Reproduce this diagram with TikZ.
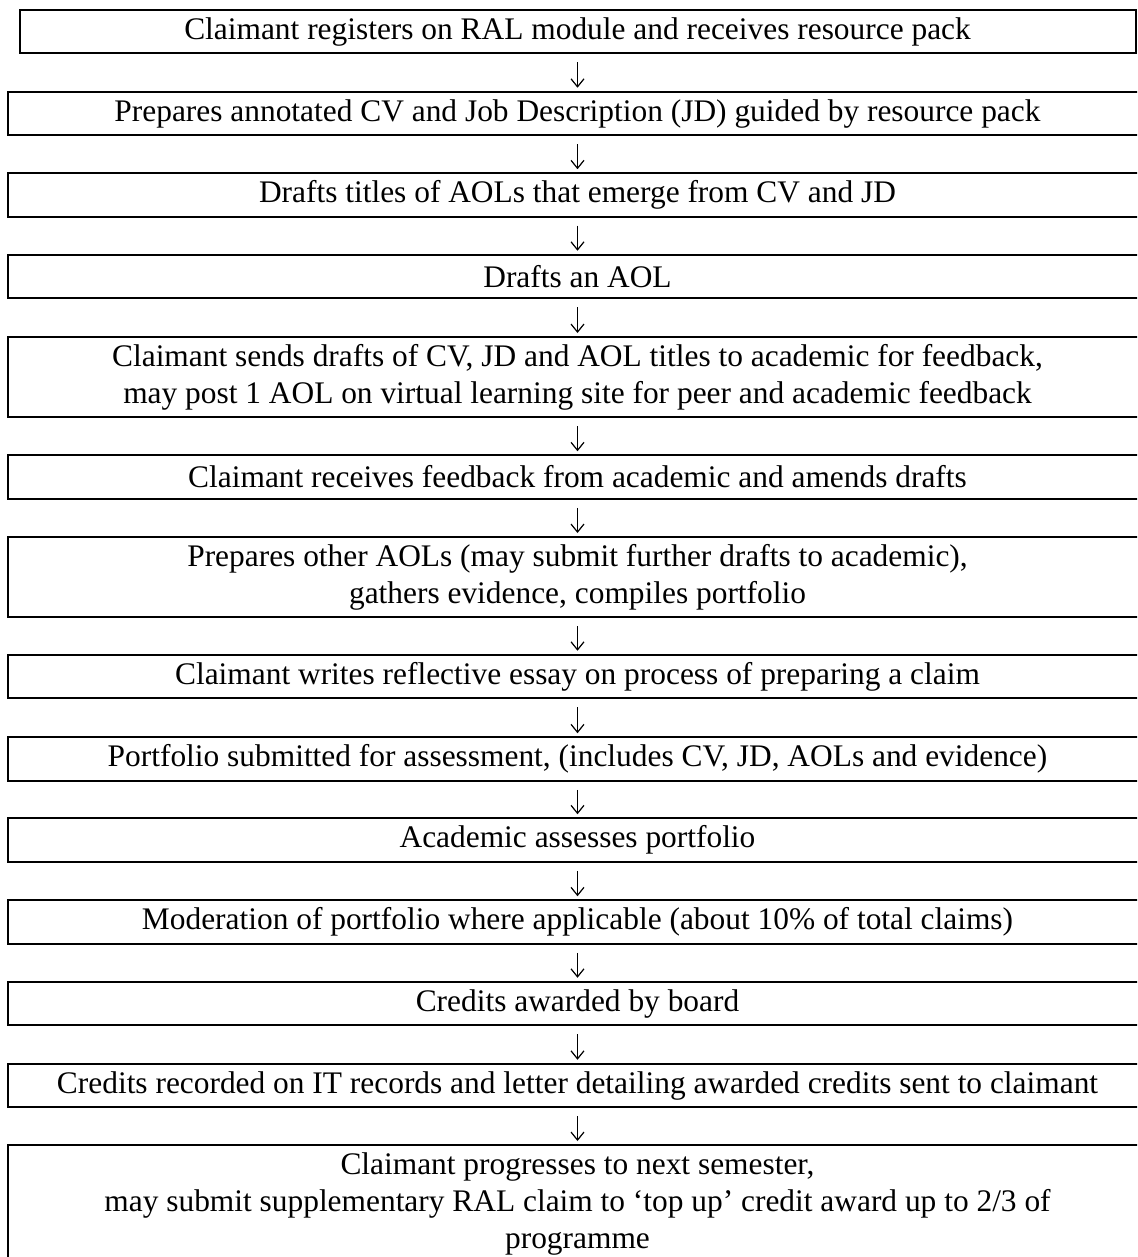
\documentclass[tikz,border=0pt]{standalone}
\usepackage{fontspec}
\setmainfont{Liberation Serif}
\usetikzlibrary{arrows.meta}
\tikzset{
  stepbox/.style={draw, line width=2pt, inner sep=0pt, align=center,
    font=\fontsize{31.4pt}{37pt}\selectfont, minimum width=1139pt, minimum height=43.5pt},
  firstbox/.style={stepbox, minimum width=1116pt},
  tallbox/.style={stepbox, minimum height=80pt},
  arr/.style={line width=1.2pt, -{Straight Barb[length=8pt,width=13pt,line width=1.2pt]},
    shorten <=8pt, shorten >=3pt}
}
\begin{document}
\begin{tikzpicture}[x=1pt,y=-1pt]
\useasboundingbox (0,0) rectangle (1137,1257);
\clip (0,0) rectangle (1137,1257);
\node[firstbox] (b1) at (577.5,31.5) {Claimant registers on RAL module and receives resource pack};
\node[stepbox] (b2) at (577.5,113.5) {Prepares annotated CV and Job Description (JD) guided by resource pack};
\node[stepbox] (b3) at (577.5,195) {Drafts titles of AOLs that emerge from CV and JD};
\node[stepbox] (b4) at (577.5,276.5) {Drafts an AOL};
\node[tallbox] (b5) at (577.5,377) {Claimant sends drafts of CV, JD and AOL titles to academic for feedback,\\ may post 1 AOL on virtual learning site for peer and academic feedback};
\node[stepbox] (b6) at (577.5,477) {Claimant receives feedback from academic and amends drafts};
\node[tallbox] (b7) at (577.5,577) {Prepares other AOLs (may submit further drafts to academic),\\ gathers evidence, compiles portfolio};
\node[stepbox] (b8) at (577.5,676.5) {Claimant writes reflective essay on process of preparing a claim};
\node[stepbox] (b9) at (577.5,759) {Portfolio submitted for assessment, (includes CV, JD, AOLs and evidence)};
\node[stepbox] (b10) at (577.5,840) {Academic assesses portfolio};
\node[stepbox] (b11) at (577.5,922) {Moderation of portfolio where applicable (about 10\% of total claims)};
\node[stepbox] (b12) at (577.5,1003.5) {Credits awarded by board};
\node[stepbox] (b13) at (577.5,1085.5) {Credits recorded on IT records and letter detailing awarded credits sent to claimant};
\node[stepbox, minimum height=117pt] (b14) at (577.5,1203.5) {Claimant progresses to next semester,\\ may submit supplementary RAL claim to ‘top up’ credit award up to 2/3 of\\ programme};
\foreach \a/\b in {b1/b2,b2/b3,b3/b4,b4/b5,b5/b6,b6/b7,b7/b8,b8/b9,b9/b10,b10/b11,b11/b12,b12/b13,b13/b14}
  \draw[arr] (\a.south) -- (\b.north);
\end{tikzpicture}
\end{document}
